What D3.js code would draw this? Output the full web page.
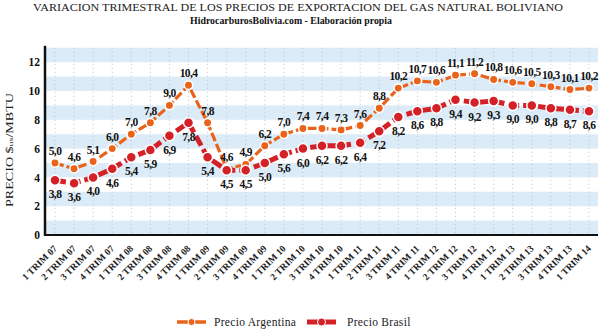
<!DOCTYPE html>
<html><head><meta charset="utf-8">
<script src="https://cdn.jsdelivr.net/npm/d3@7"></script>
<style>body{margin:0;background:#fff}svg{display:block}</style>
</head><body>
<svg id="c" width="600" height="330"></svg>
<script>
const categories = ["1 TRIM 07","2 TRIM 07","3 TRIM 07","4 TRIM 07","1 TRIM 08","2 TRIM 08","3 TRIM 08","4 TRIM 08","1 TRIM 09","2 TRIM 09","3 TRIM 09","4 TRIM 09","1 TRIM 10","2 TRIM 10","3 TRIM 10","4 TRIM 10","1 TRIM 11","2 TRIM 11","3 TRIM 11","4 TRIM 11","1 TRIM 12","2 TRIM 12","3 TRIM 12","4 TRIM 12","1 TRIM 13","2 TRIM 13","3 TRIM 13","4 TRIM 13","1 TRIM 14"];
const argentina = [5.0,4.6,5.1,6.0,7.0,7.8,9.0,10.4,7.8,4.6,4.9,6.2,7.0,7.4,7.4,7.3,7.6,8.8,10.2,10.7,10.6,11.1,11.2,10.8,10.6,10.5,10.3,10.1,10.2];
const brasil = [3.8,3.6,4.0,4.6,5.4,5.9,6.9,7.8,5.4,4.5,4.5,5.0,5.6,6.0,6.2,6.2,6.4,7.2,8.2,8.6,8.8,9.4,9.2,9.3,9.0,9.0,8.8,8.7,8.6];
const yTicks = [0,2,4,6,8,10,12];
const seriesNames = ["Precio Argentina","Precio Brasil"];

const svg = d3.select("#c");
const serif = "'Liberation Serif','DejaVu Serif',serif";
const L = 45, R = 598, T = 47.8, B = 235;
const x = d3.scalePoint().domain(categories).range([55, 589]);
const y = d3.scaleLinear().domain([0, 13]).range([B, T]);
const cOrange = "#e9631a", cRed = "#d42027";

// background bands
const bands = d3.range(0, 13, 2);
svg.append("g").selectAll("rect").data(bands).join("rect")
  .attr("x", L).attr("width", R - L)
  .attr("y", d => y(Math.min(d + 1, 13))).attr("height", d => y(d) - y(Math.min(d + 1, 13)))
  .attr("fill", "#dbebf7");

// vertical dotted grid
svg.append("g").selectAll("line").data(categories).join("line")
  .attr("x1", d => x(d)).attr("x2", d => x(d)).attr("y1", T).attr("y2", B)
  .attr("stroke", "#b9c3cc").attr("stroke-width", 1).attr("stroke-dasharray", "1,3");

// axes
const ya = svg.append("g").attr("transform", `translate(${L},0)`)
  .call(d3.axisLeft(y).tickValues(yTicks).tickSize(0).tickPadding(5).tickFormat(d3.format("d")));
ya.select(".domain").remove();
ya.selectAll("text").attr("font-family", serif).attr("font-weight", "bold").attr("font-size", 11.5).attr("fill", "#111");
svg.append("line").attr("x1", L).attr("x2", L).attr("y1", T - 2).attr("y2", B + 1).attr("stroke", "#111").attr("stroke-width", 2.5);

const xa = svg.append("g").attr("transform", `translate(0,${B})`)
  .call(d3.axisBottom(x).tickSize(0));
xa.select(".domain").remove();
xa.selectAll("text")
  .attr("font-family", serif).attr("font-weight", "bold").attr("font-size", 9.5).attr("fill", "#222")
  .attr("text-anchor", "end").attr("dy", 0)
  .attr("transform", "translate(0,12) rotate(-45)");
svg.append("line").attr("x1", L).attr("x2", R).attr("y1", B).attr("y2", B).attr("stroke", "#111").attr("stroke-width", 2);

// lines
const line = vals => d3.line().x((d, i) => x(categories[i])).y(d => y(d))(vals);
svg.append("path").attr("d", line(argentina)).attr("fill", "none").attr("stroke", cOrange)
  .attr("stroke-width", 3.2).attr("stroke-dasharray", "9,3");
svg.append("path").attr("d", line(brasil)).attr("fill", "none").attr("stroke", cRed)
  .attr("stroke-width", 5).attr("stroke-dasharray", "11,4");

svg.append("g").selectAll("circle").data(argentina).join("circle")
  .attr("cx", (d, i) => x(categories[i])).attr("cy", d => y(d)).attr("r", 4.2)
  .attr("fill", cOrange).attr("stroke", "#fff").attr("stroke-width", 1.5);
svg.append("g").selectAll("circle").data(brasil).join("circle")
  .attr("cx", (d, i) => x(categories[i])).attr("cy", d => y(d)).attr("r", 5)
  .attr("fill", cRed).attr("stroke", "#fff").attr("stroke-width", 1.5);

const fmt = v => d3.format(".1f")(v).replace(".", ",");
svg.append("g").selectAll("text").data(argentina).join("text")
  .attr("x", (d, i) => x(categories[i])).attr("y", d => y(d) - 8)
  .attr("text-anchor", "middle").attr("font-family", serif).attr("font-weight", "bold")
  .attr("font-size", 11.5).attr("letter-spacing", -0.6).attr("fill", "#111").text(fmt);
svg.append("g").selectAll("text").data(brasil).join("text")
  .attr("x", (d, i) => x(categories[i])).attr("y", d => y(d) + 18)
  .attr("text-anchor", "middle").attr("font-family", serif).attr("font-weight", "bold")
  .attr("font-size", 11.5).attr("letter-spacing", -0.6).attr("fill", "#111").text(fmt);

// titles
svg.append("text").attr("x", 298).attr("y", 11).attr("text-anchor", "middle")
  .attr("font-family", serif).attr("font-size", 11).attr("fill", "#222")
  .attr("textLength", 530).attr("lengthAdjust", "spacingAndGlyphs")
  .text("VARIACION TRIMESTRAL DE LOS PRECIOS DE EXPORTACION DEL GAS NATURAL BOLIVIANO");
svg.append("text").attr("x", 291).attr("y", 23.5).attr("text-anchor", "middle")
  .attr("font-family", serif).attr("font-weight", "bold").attr("font-size", 10).attr("fill", "#111")
  .attr("textLength", 202).attr("lengthAdjust", "spacingAndGlyphs")
  .text("HidrocarburosBolivia.com - Elaboración propia");

// y title
const yt = svg.append("text").attr("transform", "translate(13,150) rotate(-90)").attr("text-anchor", "middle")
  .attr("font-family", serif).attr("font-size", 10).attr("fill", "#222")
  .attr("textLength", 114).attr("lengthAdjust", "spacingAndGlyphs");
yt.append("tspan").text("PRECIO $");
yt.append("tspan").attr("font-size", 7).text("us");
yt.append("tspan").text("/MBTU");

// legend
const leg = [
  {name: seriesNames[0], color: cOrange, w: 3.5, r: 3.5, x0: 177, tx: 214},
  {name: seriesNames[1], color: cRed, w: 5, r: 4, x0: 307, tx: 347}
];
const lg = svg.append("g");
leg.forEach(l => {
  const yy = 322;
  lg.append("line").attr("x1", l.x0).attr("x2", l.x0 + 11).attr("y1", yy).attr("y2", yy).attr("stroke", l.color).attr("stroke-width", l.w);
  lg.append("line").attr("x1", l.x0 + 18).attr("x2", l.x0 + 29).attr("y1", yy).attr("y2", yy).attr("stroke", l.color).attr("stroke-width", l.w);
  lg.append("circle").attr("cx", l.x0 + 14.5).attr("cy", yy).attr("r", l.r).attr("fill", l.color).attr("stroke", "#fff").attr("stroke-width", 1);
  lg.append("text").attr("x", l.tx).attr("y", yy + 4).attr("font-family", serif).attr("font-size", 11.5)
    .attr("fill", "#222").attr("letter-spacing", 0.3).text(l.name);
});
</script>
</body></html>
